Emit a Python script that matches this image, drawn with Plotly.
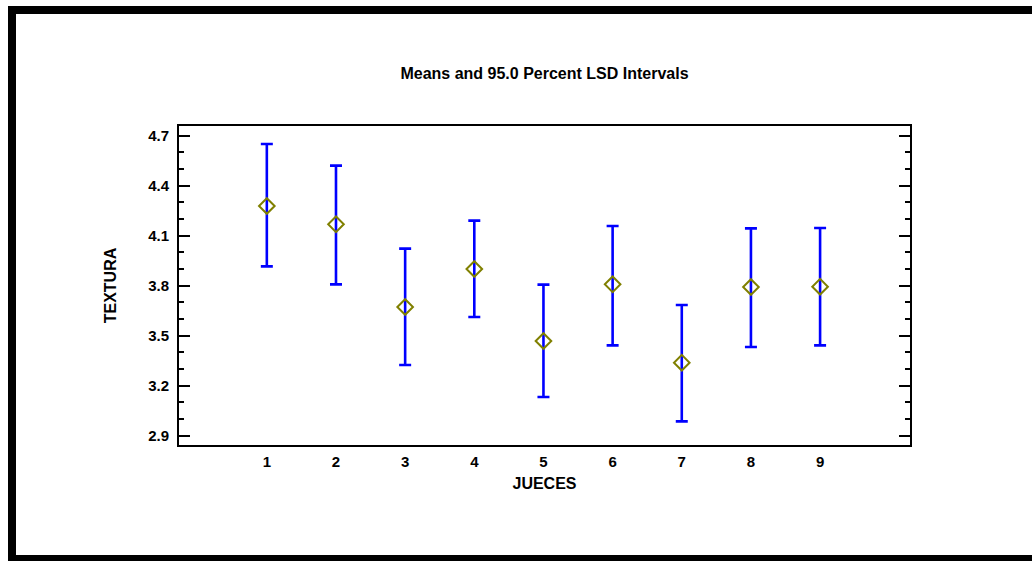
import plotly.graph_objects as go

judges = [1, 2, 3, 4, 5, 6, 7, 8, 9]
means = [4.278, 4.168, 3.672, 3.900, 3.468, 3.808, 3.338, 3.792, 3.794]
upper = [4.650, 4.520, 4.022, 4.190, 3.806, 4.158, 3.684, 4.144, 4.146]
lower = [3.916, 3.808, 3.324, 3.612, 3.132, 3.442, 2.986, 3.432, 3.442]
y_ticks = [2.9, 3.2, 3.5, 3.8, 4.1, 4.4, 4.7]

W, H = 1032, 561
L, R, T, B = 179, 910, 126, 445

err_plus = [u - m for u, m in zip(upper, means)]
err_minus = [m - l for m, l in zip(means, lower)]

fig = go.Figure()
fig.add_trace(go.Scatter(
    x=judges, y=means, mode="markers",
    marker=dict(symbol="diamond-open", size=12, color="#808000",
                line=dict(width=2, color="#808000")),
    error_y=dict(type="data", symmetric=False, array=err_plus, arrayminus=err_minus,
                 color="#0000FF", thickness=2.6, width=6),
    showlegend=False,
))

FAM = "Liberation Sans, Arial, sans-serif"
tick_font = dict(family=FAM, size=15, color="black")
title_font = dict(family=FAM, size=16, color="black")

fig.update_layout(
    width=W, height=H,
    margin=dict(l=L, r=W - R, t=T, b=H - B, autoexpand=False),
    paper_bgcolor="white", plot_bgcolor="white",
    font=tick_font,
    title=dict(text="<b>Means and 95.0 Percent LSD Intervals</b>", x=(L + R) / 2 / W,
               xanchor="center", y=1 - 73 / H, yanchor="middle", font=title_font),
    xaxis=dict(range=[-0.27, 10.3], tickvals=judges,
               ticktext=[f"<b>{j}</b>" for j in judges], tickfont=tick_font,
               showline=True, linecolor="black", linewidth=2, mirror=True,
               ticks="", showgrid=False, zeroline=False, ticklabelstandoff=2,
               title=dict(text="<b>JUECES</b>", standoff=9, font=title_font)),
    yaxis=dict(range=[2.844, 4.758], tickvals=y_ticks,
               ticktext=[f"<b>{v:.1f}</b>" for v in y_ticks], tickfont=tick_font,
               showline=True, linecolor="black", linewidth=2, mirror="ticks",
               ticks="inside", ticklen=11, tickwidth=2, tickcolor="black",
               minor=dict(tick0=2.9, dtick=0.1, ticks="inside", ticklen=5,
                          tickwidth=2, tickcolor="black", showgrid=False),
               showgrid=False, zeroline=False, ticklabelstandoff=5,
               title=dict(text="<b>TEXTURA</b>", standoff=28, font=title_font)),
)

# outer black frame (left, top, bottom visible in the reference)
pw, ph = R - L, B - T
def px(x):
    return (x - L) / pw
def py(y):
    return (B - y) / ph
for x0, y0, x1, y1 in [(8, 6, 16, 561), (8, 6, 1040, 14), (8, 555, 1040, 565)]:
    fig.add_shape(type="rect", xref="paper", yref="paper",
                  x0=px(x0), x1=px(x1), y0=py(y0), y1=py(y1),
                  fillcolor="black", line=dict(width=0), layer="above")

fig.write_html("out.html")
